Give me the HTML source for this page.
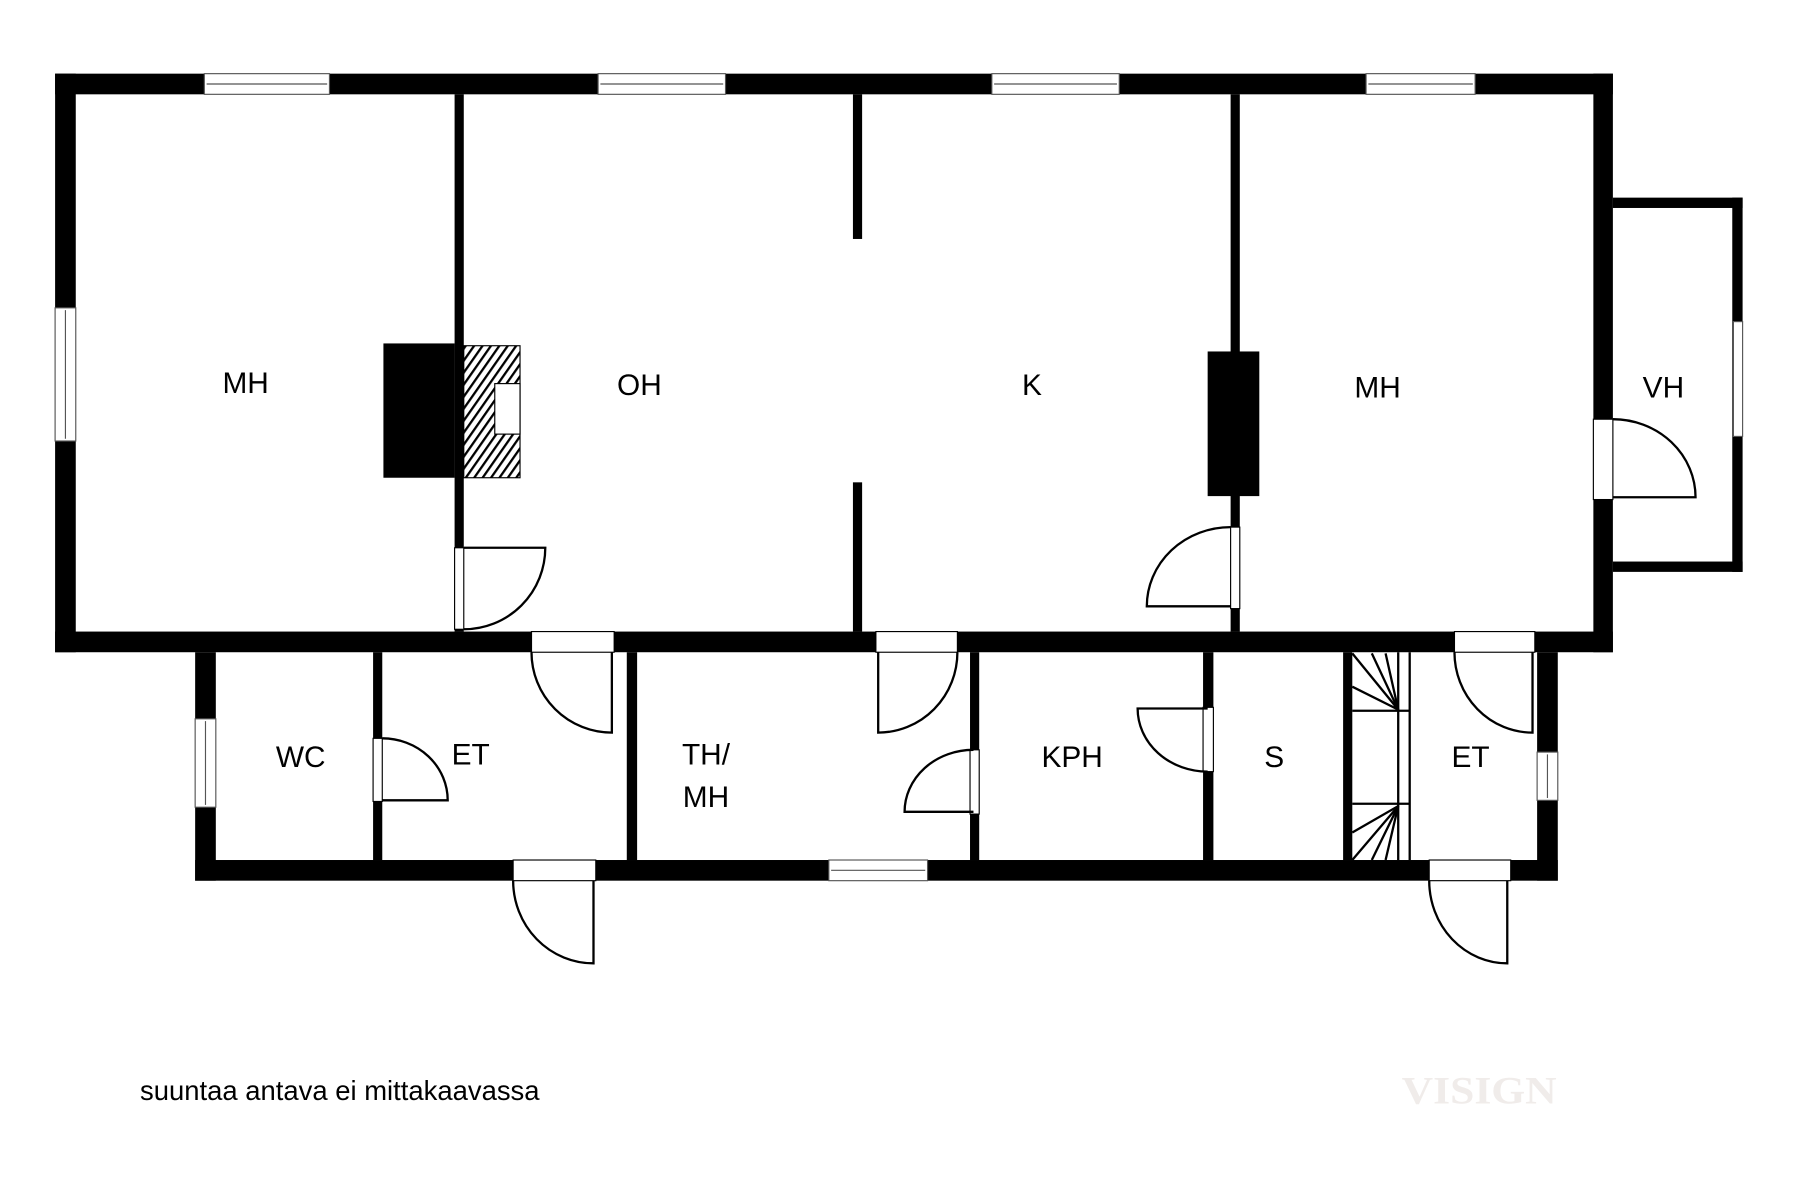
<!DOCTYPE html>
<html><head><meta charset="utf-8"><style>html,body{margin:0;padding:0;background:#fff}svg{display:block}</style></head>
<body>
<svg width="1800" height="1200" viewBox="0 0 1568 1045" xmlns="http://www.w3.org/2000/svg" font-family="Liberation Sans, Arial, sans-serif">
<rect width="1568" height="1045" fill="#fff"/>
<g fill="#000">
<rect x="48" y="64" width="1357" height="18"/>
<rect x="48" y="64" width="18" height="504"/>
<rect x="1388" y="64" width="17" height="504"/>
<rect x="48" y="550" width="1357" height="18"/>
<rect x="396" y="82" width="8" height="468"/>
<rect x="743" y="82" width="8" height="126"/>
<rect x="743" y="420" width="8" height="130"/>
<rect x="1072" y="82" width="8" height="468"/>
<rect x="1405" y="172" width="113" height="9"/>
<rect x="1509" y="172" width="9" height="326"/>
<rect x="1405" y="489" width="113" height="9"/>
<rect x="170" y="568" width="18" height="199"/>
<rect x="170" y="749" width="1187" height="18"/>
<rect x="1339" y="568" width="18" height="199"/>
<rect x="325" y="568" width="8" height="181"/>
<rect x="546" y="568" width="9" height="181"/>
<rect x="845" y="568" width="8" height="181"/>
<rect x="1048" y="568" width="9" height="181"/>
<rect x="1170" y="568" width="8" height="181"/>
<rect x="334" y="299" width="62" height="117"/>
<rect x="1052" y="306" width="45" height="126"/>
</g>
<defs><pattern id="h" width="6" height="6" patternUnits="userSpaceOnUse" patternTransform="rotate(35)"><rect width="6" height="6" fill="#fff"/><rect width="2" height="6" fill="#000"/></pattern></defs>
<rect x="404" y="301" width="49" height="115" fill="url(#h)" stroke="#000" stroke-width="1"/>
<rect x="431" y="334" width="22" height="44" fill="#fff" stroke="#000" stroke-width="1"/>
<g fill="#fff" stroke="#555" stroke-width="1">
<rect x="178" y="64" width="109" height="18"/><line x1="180" y1="73" x2="285" y2="73"/>
<rect x="521" y="64" width="111" height="18"/><line x1="523" y1="73" x2="630" y2="73"/>
<rect x="864" y="64" width="111" height="18"/><line x1="866" y1="73" x2="973" y2="73"/>
<rect x="1190" y="64" width="95" height="18"/><line x1="1192" y1="73" x2="1283" y2="73"/>
<rect x="48" y="268" width="18" height="116"/><line x1="57" y1="270" x2="57" y2="382"/>
<rect x="1510" y="280" width="8" height="100"/>
<rect x="170" y="626" width="18" height="77"/><line x1="179" y1="628" x2="179" y2="701"/>
<rect x="722" y="749" width="86" height="18"/><line x1="724" y1="758" x2="806" y2="758"/>
<rect x="1339" y="655" width="18" height="42"/><line x1="1348" y1="657" x2="1348" y2="695"/>
</g>
<g fill="#fff" stroke="#000" stroke-width="1">
<rect x="1388" y="365" width="17" height="70"/>
<rect x="396" y="477" width="8" height="71"/>
<rect x="1072" y="459" width="8" height="71"/>
<rect x="463" y="550" width="72" height="18"/>
<rect x="763" y="550" width="71" height="18"/>
<rect x="1267" y="550" width="70" height="18"/>
<rect x="845" y="653" width="8" height="56"/>
<rect x="325" y="643" width="8" height="55"/>
<rect x="1048" y="616" width="9" height="56"/>
<rect x="447" y="749" width="72" height="18"/>
<rect x="1245" y="749" width="71" height="18"/>
</g>
<g fill="none" stroke="#000" stroke-width="2">
<path d="M1405 433 H1477 A72 68 0 0 0 1405 365"/>
<path d="M404 477 H475 A71 71 0 0 1 404 548"/>
<path d="M1072 528 H999 A73 69 0 0 1 1072 459"/>
<path d="M533 568 V638 A70 70 0 0 1 463 568"/>
<path d="M765 568 V638 A69 70 0 0 0 834 568"/>
<path d="M1335 568 V638 A68 70 0 0 1 1267 568"/>
<path d="M848 707 H788 A60 54 0 0 1 848 653"/>
<path d="M333 697 H390 A57 54 0 0 0 333 643"/>
<path d="M1052 617 H991 A61 55 0 0 0 1052 672"/>
<path d="M517 767 V839 A70 72 0 0 1 447 767"/>
<path d="M1313 767 V839 A68 72 0 0 1 1245 767"/>
</g>
<g fill="none" stroke="#000" stroke-width="2">
<line x1="1218" y1="568" x2="1218" y2="749"/>
<line x1="1228" y1="568" x2="1228" y2="749"/>
<line x1="1178" y1="619" x2="1228" y2="619"/>
<line x1="1178" y1="700" x2="1228" y2="700"/>
<line x1="1218" y1="618" x2="1178" y2="569"/>
<line x1="1218" y1="618" x2="1195" y2="569"/>
<line x1="1218" y1="618" x2="1207" y2="569"/>
<line x1="1218" y1="618" x2="1178" y2="598"/>
<line x1="1218" y1="702" x2="1178" y2="725"/>
<line x1="1218" y1="702" x2="1178" y2="749"/>
<line x1="1218" y1="702" x2="1195" y2="749"/>
<line x1="1218" y1="702" x2="1207" y2="749"/>
</g>
<g font-size="26" fill="#000" text-anchor="middle">
<text x="214" y="342">MH</text>
<text x="557" y="344">OH</text>
<text x="899" y="344">K</text>
<text x="1200" y="346">MH</text>
<text x="1449" y="346">VH</text>
<text x="262" y="668">WC</text>
<text x="410" y="666">ET</text>
<text x="615" y="666">TH/</text>
<text x="615" y="703">MH</text>
<text x="934" y="668">KPH</text>
<text x="1110" y="668">S</text>
<text x="1281" y="668">ET</text>
</g>
<text x="122" y="958" font-size="24" textLength="348" lengthAdjust="spacingAndGlyphs" fill="#000">suuntaa antava ei mittakaavassa</text>
<text x="1221" y="961" font-size="34" textLength="135" lengthAdjust="spacingAndGlyphs" font-family="Liberation Serif, serif" font-weight="bold" fill="#f0ecea">VISIGN</text>
</svg>
</body></html>
